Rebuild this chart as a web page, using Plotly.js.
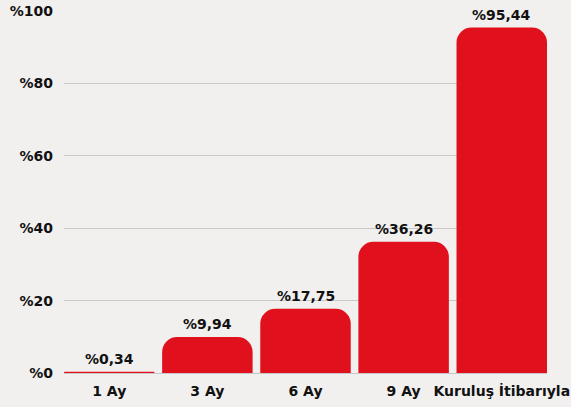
<!DOCTYPE html>
<html><head><meta charset="utf-8">
<script src="https://cdn.plot.ly/plotly-3.0.1.min.js"></script>
<style>html,body{margin:0;padding:0;background:#f1f0ef;}#c{width:571px;height:407px;}</style>
</head><body><div id="c"></div>
<script>
const categories = ["1 Ay", "3 Ay", "6 Ay", "9 Ay", "Kuruluş İtibarıyla"];
const values = [0.34, 9.94, 17.75, 36.26, 95.44];
const valueLabels = ["%0,34", "%9,94", "%17,75", "%36,26", "%95,44"];
const yTickVals = [0, 20, 40, 60, 80, 100];
const yTickText = ["%0", "%20", "%40", "%60", "%80", "%100"];

const FONT = "'DejaVu Sans', sans-serif";
const gap = 0.078;
const data = [{
  type: "bar",
  x: categories,
  y: values,
  marker: {color: "#e0111d", cornerradius: 15},
  hoverinfo: "none"
}];
const annotations = categories.map((c, i) => ({
  x: c, y: values[i], text: "<b>" + valueLabels[i] + "</b>",
  showarrow: false, yanchor: "bottom", yshift: 3,
  font: {family: FONT, size: 14, color: "#111"}
}));
const layout = {
  width: 571, height: 407,
  margin: {l: 64, r: 24, t: 11, b: 34},
  paper_bgcolor: "#f1f0ef", plot_bgcolor: "#f1f0ef",
  bargap: gap,
  showlegend: false,
  xaxis: {
    type: "category",
    range: [-0.5 + gap / 2, categories.length - 0.5 - gap / 2],
    showgrid: false, zeroline: false, showline: false,
    tickfont: {family: FONT, size: 14, color: "#111", weight: "bold"},
    ticks: "", ticklabelstandoff: 8, fixedrange: true
  },
  yaxis: {
    range: [0, 100],
    tickvals: yTickVals, ticktext: yTickText,
    showgrid: true, gridcolor: "#c8c8c8", gridwidth: 1,
    zeroline: true, zerolinecolor: "#c8c8c8", zerolinewidth: 1,
    showline: false, ticks: "", ticklabelstandoff: 10,
    tickfont: {family: FONT, size: 14, color: "#111", weight: "bold"},
    fixedrange: true
  },
  annotations: annotations
};
Plotly.newPlot("c", data, layout, {displayModeBar: false, staticPlot: true});
</script></body></html>
